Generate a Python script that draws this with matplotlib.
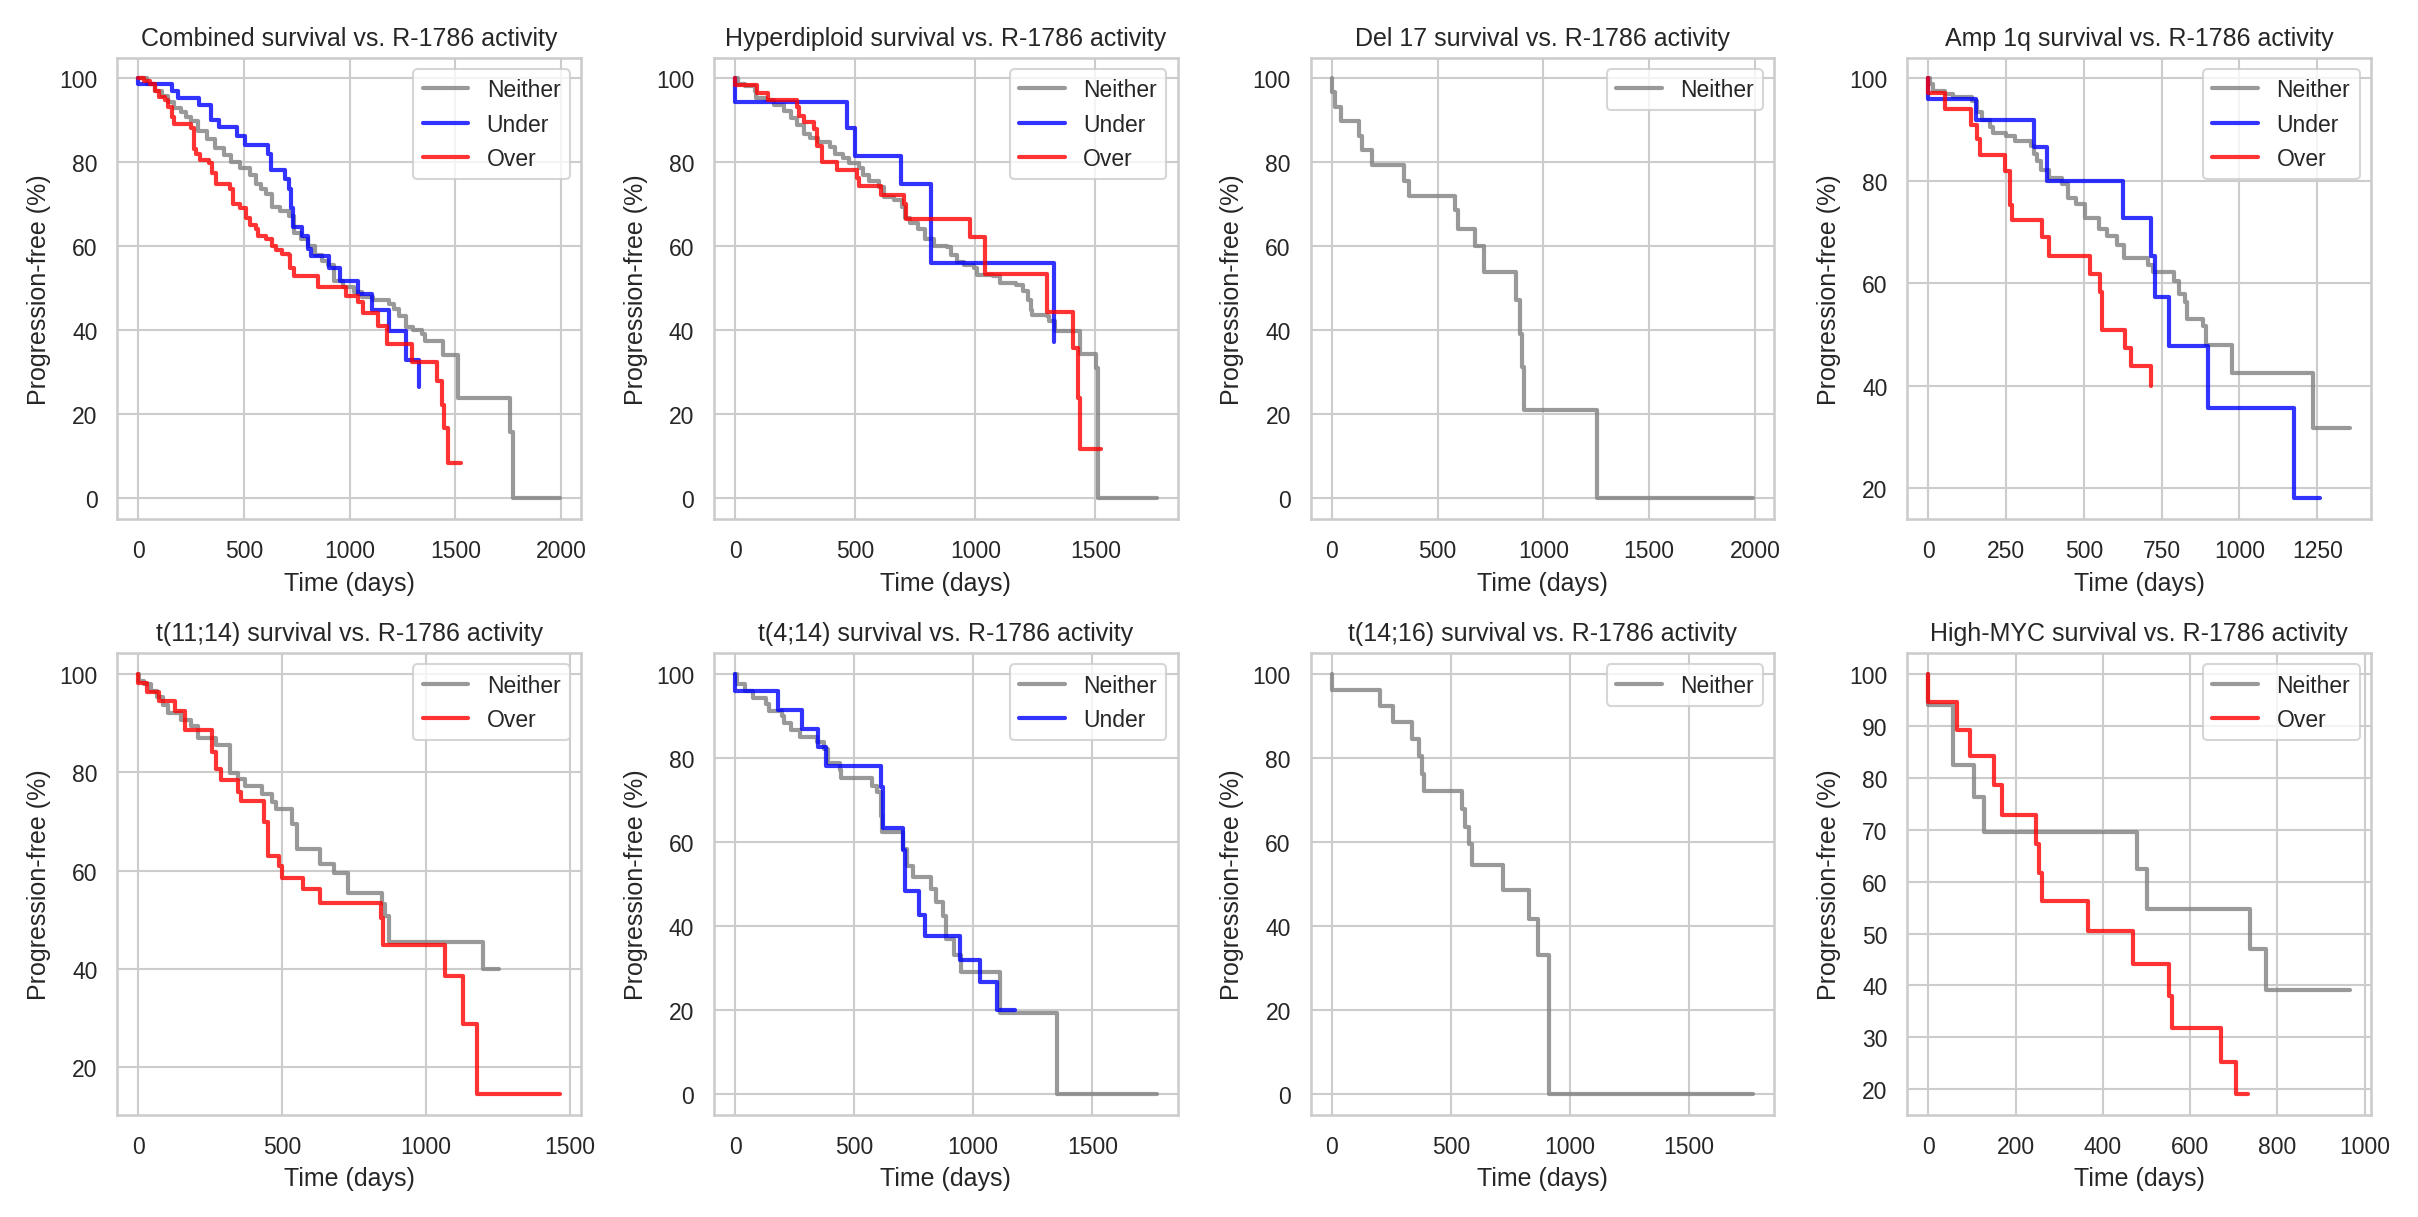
import matplotlib
matplotlib.use("Agg")
import matplotlib.pyplot as plt
import seaborn as sns

# ---------------- data (time in days, progression-free %) ----------------
titles = ["Combined", "Hyperdiploid", "Del 17", "Amp 1q",
          "t(11;14)", "t(4;14)", "t(14;16)", "High-MYC"]

comb_neither_t = [0, 40, 80, 110, 141, 170, 203, 225, 249, 280, 326, 360, 403, 440, 480, 526, 557, 580, 603, 634,
                  670, 711, 734, 770, 803, 834, 870, 895, 926, 970, 1018, 1060, 1111, 1188, 1210, 1234, 1265, 1300,
                  1341, 1357, 1441, 1511, 1757, 1772, 1995]
comb_neither_s = [100, 98.8, 97.1, 95.8, 94.4, 93.0, 92.1, 90.8, 89.8, 87.6, 85.6, 83.5, 81.7, 80.0, 78.7, 77.1, 74.8,
                  73.6, 72.5, 69.5, 68.4, 67.2, 63.3, 61.8, 60.2, 57.9, 56.6, 55.6, 51.8, 50.3, 49.1, 48.0, 47.2, 46.4,
                  45.0, 43.4, 40.7, 40.0, 39.1, 37.6, 34.1, 23.9, 15.7, 0, 0]
comb_under_t = [0, 0, 157, 188, 288, 341, 380, 465, 503, 615, 629, 692, 711, 723, 731, 775, 803, 815, 903, 952, 1037,
                1103, 1185, 1265, 1326]
comb_under_s = [100, 98.6, 97.1, 95.3, 93.6, 90.2, 88.4, 86.3, 84.2, 82.1, 78.1, 76.0, 73.7, 69.1, 64.7, 62.5, 59.5,
                57.7, 54.9, 51.8, 48.6, 44.9, 39.9, 33.0, 26.5]
comb_over_t = [0, 26, 57, 80, 95, 126, 141, 157, 169, 249, 262, 272, 292, 334, 349, 369, 434, 449, 480, 511, 526, 557,
               565, 603, 634, 649, 680, 711, 718, 734, 849, 980, 1041, 1064, 1134, 1175, 1295, 1411, 1437, 1446, 1465,
               1526]
comb_over_s = [100, 99.4, 98.6, 97.1, 95.5, 94.8, 93.2, 90.9, 89.2, 88.3, 83.3, 82.1, 80.7, 79.8, 77.5, 74.8, 73.7,
               70.2, 69.1, 66.8, 65.2, 64.1, 62.5, 61.8, 60.2, 59.1, 58.2, 57.9, 54.9, 53.0, 50.3, 48.3, 46.8, 44.1,
               41.1, 36.8, 32.4, 27.9, 22.3, 16.7, 8.4, 8.4]

hyper_neither_t = [0, 14, 41, 82, 88, 129, 163, 204, 231, 258, 286, 313, 347, 395, 415, 449, 476, 517, 531, 558, 599,
                   619, 661, 694, 708, 728, 762, 789, 830, 884, 898, 925, 952, 993, 1007, 1075, 1102, 1170, 1197, 1218,
                   1231, 1238, 1299, 1306, 1333, 1435, 1503, 1510, 1755]
hyper_neither_s = [100, 98.8, 98.2, 97.1, 95.4, 94.8, 93.6, 92.3, 90.6, 89.0, 86.7, 85.9, 84.8, 83.7, 82.1, 81.0, 79.8,
                   78.7, 77.1, 75.6, 74.1, 71.8, 71.0, 69.5, 66.8, 65.6, 64.1, 61.8, 60.2, 59.9, 57.9, 56.4, 55.6, 54.9,
                   53.3, 53.0, 51.4, 50.7, 49.5, 47.2, 44.9, 43.7, 43.4, 42.2, 39.9, 34.5, 31.1, 0, 0]
hyper_under_t = [0, 0, 465, 499, 690, 814, 1329]
hyper_under_s = [100, 94.4, 88.3, 81.6, 74.8, 56.0, 37.2]
hyper_over_t = [0, 0, 91, 139, 258, 268, 288, 329, 340, 360, 426, 506, 517, 608, 703, 710, 980, 1041, 1297, 1408, 1429,
                1435, 1524]
hyper_over_s = [100, 98.5, 96.5, 94.9, 93.2, 91.1, 89.6, 87.9, 84.0, 80.2, 78.3, 76.2, 74.4, 72.3, 70.2, 66.5, 62.2,
                53.5, 44.5, 35.7, 23.8, 11.7, 11.7]

del17_neither_t = [0, 0, 15, 43, 131, 143, 192, 342, 366, 582, 597, 677, 718, 872, 889, 900, 908, 1254, 1992]
del17_neither_s = [100, 96.7, 93.2, 89.9, 86.3, 82.9, 79.4, 75.6, 72.1, 68.7, 64.2, 60.0, 53.9, 47.2, 39.1, 31.2, 21.1,
                   0, 0]

amp_neither_t = [0, 5, 16, 52, 78, 141, 157, 173, 199, 209, 251, 277, 330, 340, 350, 363, 387, 429, 450, 476, 502, 549,
                 575, 605, 628, 706, 722, 790, 805, 826, 832, 884, 894, 975, 1236, 1355]
amp_neither_s = [100, 98.9, 97.6, 97.0, 96.3, 95.7, 93.5, 91.9, 90.6, 89.3, 88.8, 87.7, 86.9, 85.3, 83.8, 82.2, 80.6,
                 79.4, 76.7, 75.5, 72.7, 70.7, 69.3, 67.4, 65.0, 63.6, 62.2, 60.5, 58.0, 56.4, 53.1, 51.7, 47.9, 42.4,
                 31.8, 31.8]
amp_under_t = [0, 0, 154, 340, 382, 626, 717, 727, 772, 900, 1174, 1260]
amp_under_s = [100, 96.0, 91.8, 86.6, 79.9, 72.7, 65.4, 57.3, 47.7, 35.7, 18.0, 18.0]
amp_over_t = [0, 0, 52, 138, 157, 167, 246, 264, 269, 366, 387, 518, 552, 558, 633, 651, 717]
amp_over_s = [100, 97.2, 94.0, 91.0, 88.2, 85.0, 82.0, 75.3, 72.4, 69.1, 65.4, 61.9, 58.4, 50.8, 47.4, 43.8, 40.0]

t1114_neither_t = [0, 2, 19, 42, 64, 87, 104, 149, 183, 208, 268, 319, 347, 370, 430, 466, 477, 534, 553, 630, 681,
                   728, 846, 859, 873, 1198, 1255]
t1114_neither_s = [100, 98.6, 97.9, 96.6, 95.3, 93.6, 92.0, 90.7, 89.4, 86.9, 85.5, 79.9, 78.6, 77.3, 75.6, 74.0, 72.6,
                   69.4, 64.5, 61.4, 59.6, 55.5, 53.3, 50.8, 45.5, 40.0, 40.0]
t1114_over_t = [0, 0, 31, 70, 127, 161, 257, 268, 288, 345, 356, 437, 449, 488, 500, 573, 632, 844, 850, 1065, 1129,
                1176, 1466]
t1114_over_s = [100, 98.2, 96.3, 94.5, 92.5, 88.7, 84.2, 80.6, 78.4, 76.0, 74.1, 69.8, 63.0, 61.0, 58.5, 56.3, 53.5,
                50.4, 44.9, 38.5, 28.8, 14.6, 14.6]

t414_neither_t = [0, 7, 41, 75, 130, 144, 199, 206, 233, 274, 343, 373, 391, 439, 446, 576, 597, 611, 618, 707, 720,
                  748, 821, 844, 871, 885, 919, 947, 1112, 1352, 1770]
t414_neither_s = [100, 97.5, 95.9, 94.3, 92.8, 91.3, 89.9, 88.3, 86.7, 85.1, 83.7, 82.2, 78.8, 77.2, 75.3, 73.4, 71.9,
                  66.1, 62.4, 58.4, 54.2, 51.7, 48.8, 45.8, 42.3, 37.0, 33.1, 29.1, 19.3, 0, 0]
t414_under_t = [0, 0, 181, 279, 350, 380, 611, 622, 707, 714, 771, 796, 943, 1027, 1098, 1177]
t414_under_s = [100, 95.9, 91.4, 87.0, 82.6, 78.0, 73.0, 63.3, 58.0, 48.2, 42.5, 37.5, 32.0, 26.6, 19.9, 19.9]

t1416_neither_t = [0, 0, 203, 256, 338, 366, 379, 388, 548, 558, 578, 589, 719, 829, 866, 911, 1771]
t1416_neither_s = [100, 96.2, 92.4, 88.5, 84.5, 80.5, 76.2, 72.2, 67.8, 63.6, 59.4, 54.6, 48.5, 41.7, 33.1, 0, 0]

myc_neither_t = [0, 0, 57, 104, 128, 479, 500, 738, 774, 966]
myc_neither_s = [100, 94.0, 82.4, 76.3, 69.5, 62.5, 54.8, 47.0, 39.2, 39.2]
myc_over_t = [0, 0, 66, 95, 151, 169, 246, 253, 261, 365, 470, 552, 559, 670, 706, 732]
myc_over_s = [100, 94.6, 89.3, 84.2, 78.6, 72.9, 67.3, 61.6, 56.2, 50.4, 44.2, 37.9, 31.7, 25.3, 19.1, 19.1]

panels = [
    [("Neither", comb_neither_t, comb_neither_s), ("Under", comb_under_t, comb_under_s),
     ("Over", comb_over_t, comb_over_s)],
    [("Neither", hyper_neither_t, hyper_neither_s), ("Under", hyper_under_t, hyper_under_s),
     ("Over", hyper_over_t, hyper_over_s)],
    [("Neither", del17_neither_t, del17_neither_s)],
    [("Neither", amp_neither_t, amp_neither_s), ("Under", amp_under_t, amp_under_s),
     ("Over", amp_over_t, amp_over_s)],
    [("Neither", t1114_neither_t, t1114_neither_s), ("Over", t1114_over_t, t1114_over_s)],
    [("Neither", t414_neither_t, t414_neither_s), ("Under", t414_under_t, t414_under_s)],
    [("Neither", t1416_neither_t, t1416_neither_s)],
    [("Neither", myc_neither_t, myc_neither_s), ("Over", myc_over_t, myc_over_s)],
]

colors = {"Neither": "gray", "Under": "blue", "Over": "red"}

# ---------------- plot ----------------
sns.set_theme(style="whitegrid")
plt.rcParams["font.family"] = ["Liberation Sans", "DejaVu Sans"]

fig, axes = plt.subplots(2, 4, figsize=(16.12, 8.12), dpi=150)
for ax, title, groups in zip(axes.flat, titles, panels):
    for label, t, s in groups:
        ax.step(t, s, where="post", color=colors[label], alpha=0.8, lw=2, label=label)
    ax.set_title(f"{title} survival vs. R-1786 activity")
    ax.set_xlabel("Time (days)")
    ax.set_ylabel("Progression-free (%)")
    ax.legend(loc="upper right")

fig.tight_layout()
fig.savefig("out.png", dpi=150)
